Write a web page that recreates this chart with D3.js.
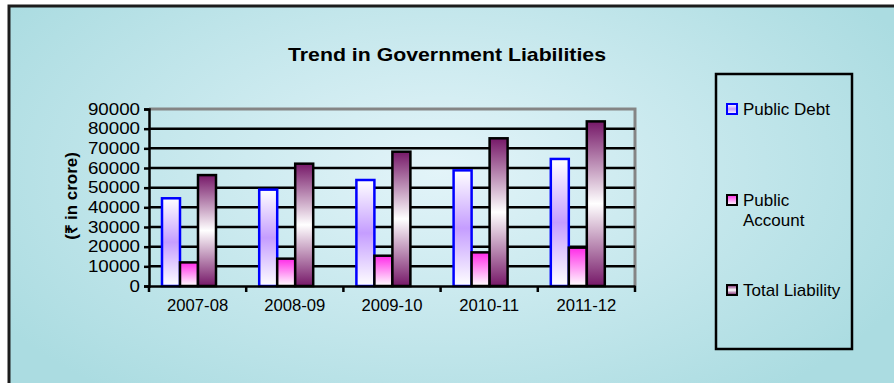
<!DOCTYPE html>
<html>
<head>
<meta charset="utf-8">
<script src="https://cdn.jsdelivr.net/npm/d3@7"></script>
<style>
    body { margin: 0; background: #ffffff; }
    text { font-family: "Liberation Sans", Arial, sans-serif; fill: #000; }
</style>
</head>
<body>
<div id="chart"></div>
<script>

// Data
const years = ["2007-08", "2008-09", "2009-10", "2010-11", "2011-12"];
const seriesNames = ["Public Debt", "Public Account", "Total Liability"];
const publicDebt = [44600, 49000, 53900, 58800, 64600];
const publicAccount = [12000, 13900, 15400, 17100, 19500];
const totalLiability = [56400, 62200, 68300, 75100, 83700];
const yTicks = [0, 10000, 20000, 30000, 40000, 50000, 60000, 70000, 80000, 90000];

const W = 894, H = 383;

// the source picture is a bit stretched sideways, widen text to match
function stretch(sel, k) {
    sel.each(function() {
        let len = this.getComputedTextLength();
        d3.select(this)
            .attr("textLength", len * k)
            .attr("lengthAdjust", "spacingAndGlyphs");
    });
}

let svg = d3.select("#chart").append("svg")
    .attr("width", W)
    .attr("height", H);

let defs = svg.append("defs");

// background
let bg = defs.append("radialGradient")
    .attr("id", "bgGrad")
    .attr("gradientUnits", "userSpaceOnUse")
    .attr("cx", 440).attr("cy", 170).attr("r", 520)
    .attr("gradientTransform", "translate(440,170) scale(1,0.55) translate(-440,-170)");
bg.append("stop").attr("offset", "0%").attr("stop-color", "#e3f4f9");
bg.append("stop").attr("offset", "100%").attr("stop-color", "#abdce1");

function vGrad(id, stops) {
    let g = defs.append("linearGradient")
        .attr("id", id)
        .attr("x1", 0).attr("y1", 0).attr("x2", 0).attr("y2", 1);
    stops.forEach(s => g.append("stop").attr("offset", s[0]).attr("stop-color", s[1]));
}
vGrad("gPD", [["0%", "#ffffff"], ["50%", "#c59dff"], ["100%", "#ffffff"]]);
vGrad("gPA", [["0%", "#ff2ae8"], ["100%", "#ffffff"]]);
vGrad("gTL", [["0%", "#761868"], ["50%", "#ffffff"], ["100%", "#761868"]]);

const fills = ["url(#gPD)", "url(#gPA)", "url(#gTL)"];
const strokes = ["#0000ff", "#000000", "#000000"];

// outer frame
svg.append("rect")
    .attr("x", 9).attr("y", 6)
    .attr("width", W + 20).attr("height", H + 20)
    .attr("fill", "url(#bgGrad)")
    .attr("stroke", "#1c1c1c")
    .attr("stroke-width", 3);

// title
svg.append("text")
    .attr("x", 447).attr("y", 61)
    .attr("text-anchor", "middle")
    .style("font-size", "19px")
    .style("font-weight", "bold")
    .text("Trend in Government Liabilities")
    .call(stretch, 1.12);

// plot area
const plot = { left: 149, right: 635, top: 109, bottom: 286 };

let x = d3.scaleBand()
    .domain(years)
    .range([plot.left, plot.right]);

let xSub = d3.scaleBand()
    .domain(seriesNames)
    .range([13, 67]);

let y = d3.scaleLinear()
    .domain([0, 90000])
    .range([plot.bottom, plot.top]);

// plot border (top/right in grey)
svg.append("path")
    .attr("d", `M${plot.left},${plot.top}H${plot.right}V${plot.bottom}`)
    .attr("fill", "none")
    .attr("stroke", "#858585")
    .attr("stroke-width", 3);

// gridlines
svg.append("g")
    .selectAll("line")
    .data(yTicks.filter(d => d > 0 && d < 90000))
    .join("line")
    .attr("x1", plot.left).attr("x2", plot.right)
    .attr("y1", d => y(d)).attr("y2", d => y(d))
    .attr("stroke", "#000")
    .attr("stroke-width", 2.5);

// bars
const values = [publicDebt, publicAccount, totalLiability];
let groups = svg.append("g")
    .selectAll("g")
    .data(years)
    .join("g")
    .attr("transform", d => `translate(${x(d)},0)`);

groups.selectAll("rect")
    .data((d, i) => seriesNames.map((s, j) => ({ series: s, j: j, value: values[j][i] })))
    .join("rect")
    .attr("x", d => xSub(d.series))
    .attr("y", d => y(d.value))
    .attr("width", xSub.bandwidth())
    .attr("height", d => y(0) - y(d.value))
    .attr("fill", d => fills[d.j])
    .attr("stroke", d => strokes[d.j])
    .attr("stroke-width", 2.5);

// axes
let yAxis = d3.axisLeft(y)
    .tickValues(yTicks)
    .tickSize(5)
    .tickPadding(4)
    .tickFormat(d3.format("d"));

let yG = svg.append("g")
    .attr("transform", `translate(${plot.left},0)`)
    .call(yAxis);
yG.select(".domain").attr("stroke", "#000").attr("stroke-width", 2.5);
yG.selectAll(".tick line").attr("stroke", "#000").attr("stroke-width", 2.5);
yG.selectAll(".tick text")
    .style("font-size", "16px")
    .style("font-family", "Liberation Sans, Arial, sans-serif")
    .call(stretch, 1.17);

let xAxis = d3.axisBottom(x)
    .tickSize(0)
    .tickPadding(14);

let xG = svg.append("g")
    .attr("transform", `translate(0,${plot.bottom})`)
    .call(xAxis);
xG.select(".domain").attr("stroke", "#000").attr("stroke-width", 2.5);
xG.selectAll(".tick text")
    .style("font-size", "16px")
    .style("font-family", "Liberation Sans, Arial, sans-serif")
    .call(stretch, 1.04);

// category boundary ticks
svg.append("g")
    .selectAll("line")
    .data(years.map(d => x(d)).concat([plot.right]))
    .join("line")
    .attr("x1", d => d).attr("x2", d => d)
    .attr("y1", plot.bottom).attr("y2", plot.bottom + 6)
    .attr("stroke", "#000")
    .attr("stroke-width", 2.5);

// y axis label
svg.append("text")
    .attr("transform", "translate(77,196) rotate(-90)")
    .attr("text-anchor", "middle")
    .style("font-size", "16px")
    .style("font-weight", "bold")
    .text("(₹ in crore)")
    .call(stretch, 1.06);

// legend
svg.append("rect")
    .attr("x", 716).attr("y", 74)
    .attr("width", 136).attr("height", 275)
    .attr("fill", "none")
    .attr("stroke", "#000")
    .attr("stroke-width", 2.5);

const legendY = [109, 200, 290];
const legendLines = [["Public Debt"], ["Public", "Account"], ["Total Liability"]];

let legend = svg.append("g")
    .selectAll("g")
    .data(seriesNames)
    .join("g")
    .attr("transform", (d, i) => `translate(727,${legendY[i]})`);

legend.append("rect")
    .attr("x", 0).attr("y", -5)
    .attr("width", 10).attr("height", 10)
    .attr("fill", (d, i) => fills[i])
    .attr("stroke", (d, i) => strokes[i])
    .attr("stroke-width", 2);

legend.each(function(d, i) {
    let t = d3.select(this).append("text")
        .attr("x", 16).attr("y", 6)
        .style("font-size", "17px");
    legendLines[i].forEach((line, k) => {
        t.append("tspan")
            .attr("x", 16)
            .attr("dy", k === 0 ? 0 : 20)
            .text(line);
    });
});

</script>
</body>
</html>
